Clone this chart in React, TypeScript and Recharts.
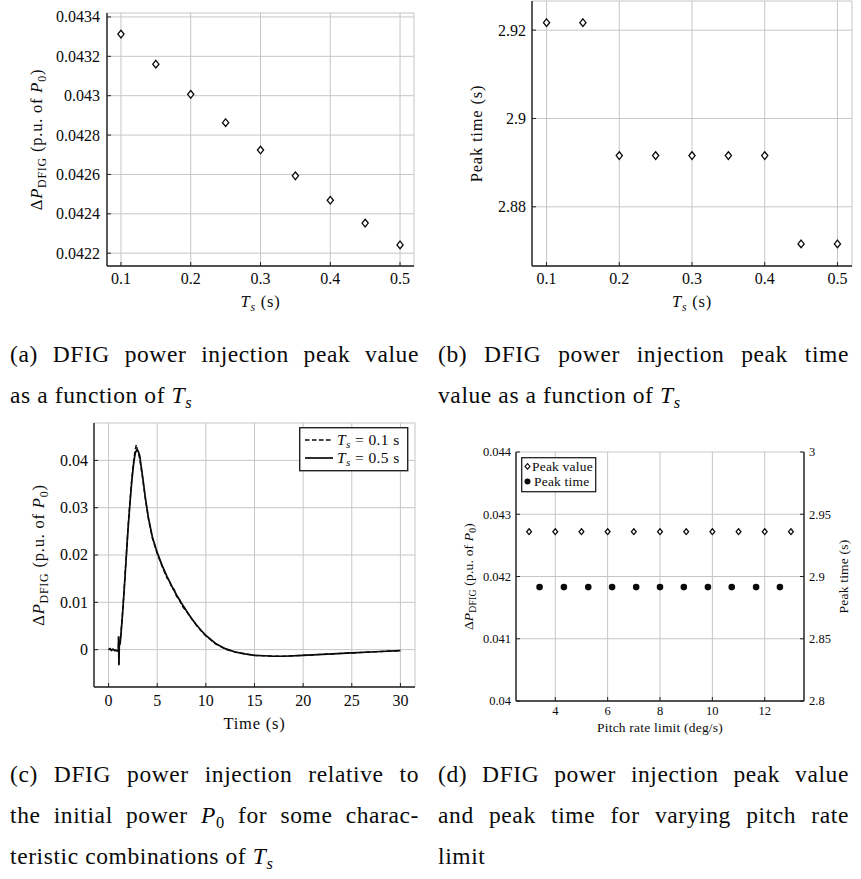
import React from 'react';
import { ScatterChart, Scatter, LineChart, Line, XAxis, YAxis, CartesianGrid, Legend } from 'recharts';

// ---------- (a) / (b) data ----------
const tsValues = [0.1, 0.15, 0.2, 0.25, 0.3, 0.35, 0.4, 0.45, 0.5];
const peakValues = [0.043313, 0.04316, 0.043007, 0.042863, 0.042724, 0.042593, 0.042469, 0.042353, 0.042242];
const peakTimes = [2.9217, 2.9217, 2.8916, 2.8916, 2.8916, 2.8916, 2.8916, 2.8716, 2.8716];
const tsTicks = [0.1, 0.2, 0.3, 0.4, 0.5];
const peakValueTicks = [0.0422, 0.0424, 0.0426, 0.0428, 0.043, 0.0432, 0.0434];
const peakTimeTicks = [2.88, 2.9, 2.92];

// ---------- (c) data ----------
const timeTs05 = [0, 0.15, 0.3, 0.45, 0.6, 0.75, 0.9, 1.0, 1.03, 1.06, 1.1, 1.2, 1.4, 1.6, 1.8, 2.0, 2.2, 2.4, 2.6, 2.75, 2.9, 3.05, 3.2, 3.5, 3.8, 4.1, 4.5, 5.0, 5.5, 6.0, 6.5, 7.0, 7.5, 8.0, 8.5, 9.0, 9.5, 10, 11, 12, 13, 14, 15, 16, 17, 18, 20, 22, 25, 28, 30];
const powerTs05 = [0, 0.0002, -0.0001, 0.0001, -0.0002, -0.0001, -0.0003, -0.0002, 0.0028, -0.0033, 0.0008, 0.0015, 0.0065, 0.0125, 0.019, 0.0255, 0.031, 0.036, 0.0398, 0.0416, 0.0422, 0.0419, 0.041, 0.0365, 0.0318, 0.0278, 0.0238, 0.0205, 0.0178, 0.0155, 0.0134, 0.0115, 0.0098, 0.0082, 0.0067, 0.0053, 0.0041, 0.003, 0.0013, 0.0002, -0.0005, -0.0009, -0.0012, -0.0013, -0.0014, -0.0014, -0.0012, -0.001, -0.0007, -0.0004, -0.0002];
const timeTs01 = [0, 0.15, 0.3, 0.45, 0.6, 0.75, 0.9, 1.0, 1.03, 1.06, 1.1, 1.2, 1.4, 1.6, 1.8, 2.0, 2.2, 2.4, 2.6, 2.75, 2.85, 2.95, 3.1, 3.25, 3.5, 3.8, 4.1, 4.5, 5.0, 5.5, 6.0, 6.25, 6.5, 6.75, 7.0, 7.25, 7.5, 8.0, 8.5, 9.0, 9.5, 10, 11, 12, 13, 14, 15, 16, 17, 18, 20, 22, 25, 28, 30];
const powerTs01 = [0, 0.0001, -0.0002, 0.0001, -0.0001, -0.0002, -0.0002, -0.0001, 0.0026, -0.003, 0.0006, 0.0017, 0.0068, 0.0128, 0.0193, 0.0258, 0.0314, 0.0364, 0.0403, 0.0424, 0.0433, 0.0424, 0.0413, 0.0396, 0.0362, 0.0316, 0.0276, 0.0236, 0.0203, 0.0176, 0.0151, 0.0147, 0.013, 0.0127, 0.0112, 0.0108, 0.0094, 0.0081, 0.0066, 0.0052, 0.004, 0.0029, 0.0012, 0.0001, -0.0005, -0.0009, -0.0012, -0.0013, -0.0014, -0.0014, -0.0012, -0.001, -0.0007, -0.0004, -0.0002];
const timeTicks = [0, 5, 10, 15, 20, 25, 30];
const powerTicks = [0, 0.01, 0.02, 0.03, 0.04];

// ---------- (d) data ----------
const pitchRates = [3, 4, 5, 6, 7, 8, 9, 10, 11, 12, 13];
const pitchPeakValues = [0.04272, 0.04272, 0.04272, 0.04272, 0.04272, 0.04272, 0.04272, 0.04272, 0.04272, 0.04272, 0.04272];
const pitchTimeRates = [3.4, 4.33, 5.26, 6.17, 7.09, 8.0, 8.91, 9.83, 10.74, 11.67, 12.58];
const pitchPeakTimes = [2.8915, 2.8915, 2.8915, 2.8915, 2.8915, 2.8915, 2.8915, 2.8915, 2.8915, 2.8915, 2.8915];
const pitchTicks = [4, 6, 8, 10, 12];
const pitchValueTicks = [0.04, 0.041, 0.042, 0.043, 0.044];
const pitchTimeTicks = [2.8, 2.85, 2.9, 2.95, 3];

// ---------- derived tables ----------
const dataA = tsValues.map((ts, i) => ({ ts, value: peakValues[i] }));
const dataB = tsValues.map((ts, i) => ({ ts, value: peakTimes[i] }));
const dataC05 = timeTs05.map((t, i) => ({ t, v: powerTs05[i] }));
const dataC01 = timeTs01.map((t, i) => ({ t, v: powerTs01[i] }));
const dataDValue = pitchRates.map((x, i) => ({ x, y: pitchPeakValues[i] }));
const dataDTime = pitchTimeRates.map((x, i) => ({ x, y: pitchPeakTimes[i] }));

// ---------- styles ----------
const FONT = '"Liberation Serif", "Times New Roman", serif';
const AXIS = '#222';
const GRID = '#c6c6c6';
const INK = '#0a0a0a';
const axisLine = { stroke: AXIS, strokeWidth: 1.4 };

type Side = 'bottom' | 'top' | 'left' | 'right';

function makeTick(side: Side, fs: number, m: number, text: boolean, len = 4) {
  return (props: any) => {
    const { x, y, payload } = props;
    const label = String(payload.value);
    let ln: any = null;
    let t: any = null;
    if (side === 'bottom') {
      ln = <line x1={x} x2={x} y1={y - m} y2={y - m - len} stroke={AXIS} strokeWidth={1} />;
      if (text) t = <text x={x} y={y} dy="0.72em" textAnchor="middle" fontFamily={FONT} fontSize={fs} fill={INK}>{label}</text>;
    } else if (side === 'top') {
      ln = <line x1={x} x2={x} y1={y + m} y2={y + m + len} stroke={AXIS} strokeWidth={1} />;
    } else if (side === 'left') {
      ln = <line x1={x + m} x2={x + m + len} y1={y} y2={y} stroke={AXIS} strokeWidth={1} />;
      if (text) t = <text x={x} y={y} dy="0.34em" textAnchor="end" fontFamily={FONT} fontSize={fs} fill={INK}>{label}</text>;
    } else {
      ln = <line x1={x - m} x2={x - m - len} y1={y} y2={y} stroke={AXIS} strokeWidth={1} />;
      if (text) t = <text x={x} y={y} dy="0.34em" textAnchor="start" fontFamily={FONT} fontSize={fs} fill={INK}>{label}</text>;
    }
    return <g>{ln}{t}</g>;
  };
}

const xTitle = (dy: number, fs: number, ls: number, body: any) => (props: any) => {
  const vb = props.viewBox || { x: 0, y: 0, width: 0, height: 0 };
  return (
    <text x={vb.x + vb.width / 2} y={vb.y + dy} textAnchor="middle" fontFamily={FONT} fontSize={fs} letterSpacing={ls} fill={INK}>{body}</text>
  );
};
const yTitle = (bx: number, fs: number, ls: number, body: any) => (props: any) => {
  const vb = props.viewBox || { x: 0, y: 0, width: 0, height: 0 };
  const cy = vb.y + vb.height / 2;
  return (
    <text transform={`translate(${bx},${cy}) rotate(-90)`} textAnchor="middle" fontFamily={FONT} fontSize={fs} letterSpacing={ls} fill={INK}>{body}</text>
  );
};

const dpLabel = (fs: number) => {
  const s = fs * 0.72;
  const d = fs * 0.25;
  return [
    <tspan key="a">Δ</tspan>,
    <tspan key="b" fontStyle="italic">P</tspan>,
    <tspan key="c" fontSize={s} dy={d}>DFIG</tspan>,
    <tspan key="d" dy={-d}> (p.u. of </tspan>,
    <tspan key="e" fontStyle="italic">P</tspan>,
    <tspan key="f" fontSize={s} dy={d}>0</tspan>,
    <tspan key="g" dy={-d}>)</tspan>,
  ];
};
const tsLabel = (fs: number) => {
  const s = fs * 0.72;
  const d = fs * 0.25;
  return [
    <tspan key="a" fontStyle="italic">T</tspan>,
    <tspan key="b" fontSize={s} fontStyle="italic" dy={d}>s</tspan>,
    <tspan key="c" dy={-d}> (s)</tspan>,
  ];
};

const diamond = (w: number, h: number) => (props: any) => {
  const { cx, cy } = props;
  return <path d={`M${cx},${cy - h} L${cx + w},${cy} L${cx},${cy + h} L${cx - w},${cy} Z`} fill="#fff" stroke={INK} strokeWidth={1.3} />;
};
const dot = (r: number) => (props: any) => <circle cx={props.cx} cy={props.cy} r={r} fill={INK} />;

const TFS = 16.5; // axis title size
const TLS = 0.8; // axis title letter spacing
const KFS = 16; // tick label size

// ---------- panels ----------
function PanelTs({ data, yDomain, yTicks, yWidth, top, right, xH, yTitleX, yBody, mY, mX }: any) {
  return (
    <ScatterChart width={430} height={320} margin={{ top, right, bottom: 0, left: 0 }}>
      <CartesianGrid xAxisId="b" yAxisId="l" stroke={GRID} strokeWidth={1} />
      <XAxis xAxisId="b" dataKey="ts" type="number" domain={[0.08, 0.52]} ticks={tsTicks} interval={0} allowDataOverflow
        height={xH} tickSize={0} tickMargin={mX} tickLine={false} axisLine={axisLine} tick={makeTick('bottom', KFS, mX, true)}
        label={{ content: xTitle(41, TFS, TLS, tsLabel(TFS)) }} />
      <XAxis xAxisId="t" orientation="top" type="number" domain={[0.08, 0.52]} ticks={tsTicks} interval={0} allowDataOverflow
        height={0} tickSize={0} tickMargin={0} tickLine={false} axisLine={axisLine} tick={makeTick('top', KFS, 0, false)} />
      <YAxis yAxisId="l" dataKey="value" type="number" domain={yDomain} ticks={yTicks} interval={0} allowDataOverflow
        width={yWidth} tickSize={0} tickMargin={mY} tickLine={false} axisLine={axisLine} tick={makeTick('left', KFS, mY, true)}
        label={{ content: yTitle(yTitleX, TFS, TLS, yBody) }} />
      <YAxis yAxisId="r" orientation="right" type="number" domain={yDomain} ticks={yTicks} interval={0} allowDataOverflow
        width={0} tickSize={0} tickMargin={0} tickLine={false} axisLine={axisLine} tick={makeTick('right', KFS, 0, false)} />
      <Scatter xAxisId="b" yAxisId="l" data={data} shape={diamond(3.1, 3.8)} isAnimationActive={false} />
    </ScatterChart>
  );
}

const legendC = () => (
  <svg width={110} height={45} style={{ display: 'block' }}>
    <rect x={0.7} y={0.7} width={108} height={43} fill="#fff" stroke={AXIS} strokeWidth={1.4} />
    <line x1={6} x2={34} y1={13} y2={13} stroke={INK} strokeWidth={1.4} strokeDasharray="4.5 2.5" />
    <text x={38} y={13} dy="0.34em" fontFamily={FONT} fontSize={15.5} letterSpacing={0.4} fill={INK}>
      <tspan fontStyle="italic">T</tspan><tspan fontStyle="italic" fontSize={11} dy={3}>s</tspan><tspan dy={-3}> = 0.1 s</tspan>
    </text>
    <line x1={6} x2={34} y1={31} y2={31} stroke={INK} strokeWidth={1.7} />
    <text x={38} y={31} dy="0.34em" fontFamily={FONT} fontSize={15.5} letterSpacing={0.4} fill={INK}>
      <tspan fontStyle="italic">T</tspan><tspan fontStyle="italic" fontSize={11} dy={3}>s</tspan><tspan dy={-3}> = 0.5 s</tspan>
    </text>
  </svg>
);

const legendD = () => (
  <svg width={76} height={36} style={{ display: 'block' }}>
    <rect x={0.7} y={0.7} width={74} height={34} fill="#fff" stroke={AXIS} strokeWidth={1.3} />
    <path d="M6.5,6.6 L9,9.4 L6.5,12.2 L4,9.4 Z" fill="#fff" stroke={INK} strokeWidth={1.1} />
    <text x={11} y={9.4} dy="0.34em" fontFamily={FONT} fontSize={13.5} letterSpacing={0.2} fill={INK}>Peak value</text>
    <circle cx={6.5} cy={24.4} r={3} fill={INK} />
    <text x={13} y={24.4} dy="0.34em" fontFamily={FONT} fontSize={13.5} letterSpacing={0.2} fill={INK}>Peak time</text>
  </svg>
);

function PanelC() {
  return (
    <LineChart width={430} height={345} margin={{ top: 23, right: 15, bottom: 0, left: 0 }}>
      <CartesianGrid xAxisId="b" yAxisId="l" stroke={GRID} strokeWidth={1} />
      <XAxis xAxisId="b" dataKey="t" type="number" domain={[-1.5, 31.5]} ticks={timeTicks} interval={0} allowDataOverflow
        height={58} tickSize={0} tickMargin={7} tickLine={false} axisLine={axisLine} tick={makeTick('bottom', KFS, 7, true)}
        label={{ content: xTitle(42, TFS, TLS, 'Time (s)') }} />
      <XAxis xAxisId="t" orientation="top" type="number" domain={[-1.5, 31.5]} ticks={timeTicks} interval={0} allowDataOverflow
        height={0} tickSize={0} tickMargin={0} tickLine={false} axisLine={axisLine} tick={makeTick('top', KFS, 0, false)} />
      <YAxis yAxisId="l" dataKey="v" type="number" domain={[-0.0079, 0.0479]} ticks={powerTicks} interval={0} allowDataOverflow
        width={94} tickSize={0} tickMargin={6} tickLine={false} axisLine={axisLine} tick={makeTick('left', KFS, 6, true)}
        label={{ content: yTitle(43.5, TFS, TLS, dpLabel(TFS)) }} />
      <YAxis yAxisId="r" orientation="right" type="number" domain={[-0.0079, 0.0479]} ticks={powerTicks} interval={0} allowDataOverflow
        width={0} tickSize={0} tickMargin={0} tickLine={false} axisLine={axisLine} tick={makeTick('right', KFS, 0, false)} />
      <Line xAxisId="b" yAxisId="l" data={dataC05} dataKey="v" type="linear" stroke={INK} strokeWidth={1.7} dot={false} isAnimationActive={false} />
      <Line xAxisId="b" yAxisId="l" data={dataC01} dataKey="v" type="linear" stroke={INK} strokeWidth={1.4} strokeDasharray="4.5 2.5" dot={false} isAnimationActive={false} />
      <Legend layout="horizontal" verticalAlign="middle" align="center" content={legendC}
        wrapperStyle={{ left: 299, top: 27, width: 110, height: 45 }} />
    </LineChart>
  );
}

function PanelD() {
  const fs = 12.5;
  const lfs = 13.5;
  return (
    <ScatterChart width={431} height={345} margin={{ top: 52, right: 0, bottom: 0, left: 0 }}>
      <CartesianGrid xAxisId="b" yAxisId="l" stroke={GRID} strokeWidth={1} />
      <XAxis xAxisId="b" dataKey="x" type="number" domain={[2.5, 13.5]} ticks={pitchTicks} interval={0} allowDataOverflow
        height={44} tickSize={0} tickMargin={5} tickLine={false} axisLine={axisLine} tick={makeTick('bottom', fs, 5, true)}
        label={{ content: xTitle(31, lfs, 0.2, 'Pitch rate limit (deg/s)') }} />
      <XAxis xAxisId="t" orientation="top" type="number" domain={[2.5, 13.5]} ticks={pitchTicks} interval={0} allowDataOverflow
        height={0} tickSize={0} tickMargin={0} tickLine={false} axisLine={axisLine} tick={makeTick('top', fs, 0, false)} />
      <YAxis yAxisId="l" dataKey="y" type="number" domain={[0.04, 0.044]} ticks={pitchValueTicks} interval={0} allowDataOverflow
        width={86} tickSize={0} tickMargin={5} tickLine={false} axisLine={axisLine} tick={makeTick('left', fs, 5, true)}
        label={{ content: yTitle(43, lfs, 0.2, dpLabel(lfs)) }} />
      <YAxis yAxisId="r" orientation="right" dataKey="y" type="number" domain={[2.8, 3]} ticks={pitchTimeTicks} interval={0} allowDataOverflow
        width={57} tickSize={0} tickMargin={5} tickLine={false} axisLine={axisLine} tick={makeTick('right', fs, 5, true)}
        label={{ content: yTitle(417.5, lfs, 0.2, 'Peak time (s)') }} />
      <Scatter xAxisId="b" yAxisId="l" data={dataDValue} shape={diamond(2.4, 2.9)} isAnimationActive={false} />
      <Scatter xAxisId="b" yAxisId="r" data={dataDTime} shape={dot(3.3)} isAnimationActive={false} />
      <Legend layout="horizontal" verticalAlign="middle" align="center" content={legendD}
        wrapperStyle={{ left: 91, top: 57, width: 76, height: 36 }} />
    </ScatterChart>
  );
}

// ---------- captions ----------
const subStyle: React.CSSProperties = { fontSize: '0.7em', verticalAlign: '-0.28em', lineHeight: 0 };
const TsM = () => <><i>T</i><sub style={{ ...subStyle, fontStyle: 'italic' }}>s</sub></>;
const P0 = () => <><i>P</i><sub style={subStyle}>0</sub></>;

const CAP_FS = 23.5;
const CAP_LH = 41;
function Caption({ left, width, baseline, lines }: any) {
  const top = baseline - ((CAP_LH - CAP_FS * 1.107) / 2 + CAP_FS * 0.891);
  return (
    <div style={{ position: 'absolute', left, top, width, fontFamily: FONT, fontSize: CAP_FS, letterSpacing: '0.6px', lineHeight: `${CAP_LH}px`, color: INK }}>
      {lines.map((ln: any, i: number) => (
        <div key={i} style={{ height: CAP_LH, whiteSpace: 'nowrap', textAlign: ln.full ? 'justify' : 'left', textAlignLast: ln.full ? 'justify' : 'left' } as any}>
          {ln.body}
        </div>
      ))}
    </div>
  );
}

export default function App() {
  return (
    <div style={{ position: 'absolute', left: 0, top: 0, width: 861, height: 879, background: '#fff', overflow: 'hidden' }}>
      <div style={{ position: 'absolute', left: 0, top: 0 }}>
        <PanelTs data={dataA} yDomain={[0.042135, 0.04342]} yTicks={peakValueTicks} yWidth={107} top={13} right={16} xH={54} mY={7} mX={6}
          yTitleX={42} yBody={dpLabel(TFS)} />
      </div>
      <div style={{ position: 'absolute', left: 430, top: 0 }}>
        <PanelTs data={dataB} yDomain={[2.8666, 2.9266]} yTicks={peakTimeTicks} yWidth={102} top={1} right={8} xH={54} mY={6} mX={6}
          yTitleX={52} yBody="Peak time (s)" />
      </div>
      <div style={{ position: 'absolute', left: 0, top: 400 }}>
        <PanelC />
      </div>
      <div style={{ position: 'absolute', left: 430, top: 400 }}>
        <PanelD />
      </div>
      <Caption left={10} width={409} baseline={362} lines={[
        { full: true, body: <>(a) DFIG power injection peak value</> },
        { full: false, body: <>as a function of <TsM /></> },
      ]} />
      <Caption left={438} width={411} baseline={362} lines={[
        { full: true, body: <>(b) DFIG power injection peak time</> },
        { full: false, body: <>value as a function of <TsM /></> },
      ]} />
      <Caption left={10} width={409} baseline={782} lines={[
        { full: true, body: <>(c) DFIG power injection relative to</> },
        { full: true, body: <>the initial power <P0 /> for some charac-</> },
        { full: false, body: <>teristic combinations of <TsM /></> },
      ]} />
      <Caption left={438} width={411} baseline={782} lines={[
        { full: true, body: <>(d) DFIG power injection peak value</> },
        { full: true, body: <>and peak time for varying pitch rate</> },
        { full: false, body: <>limit</> },
      ]} />
    </div>
  );
}
